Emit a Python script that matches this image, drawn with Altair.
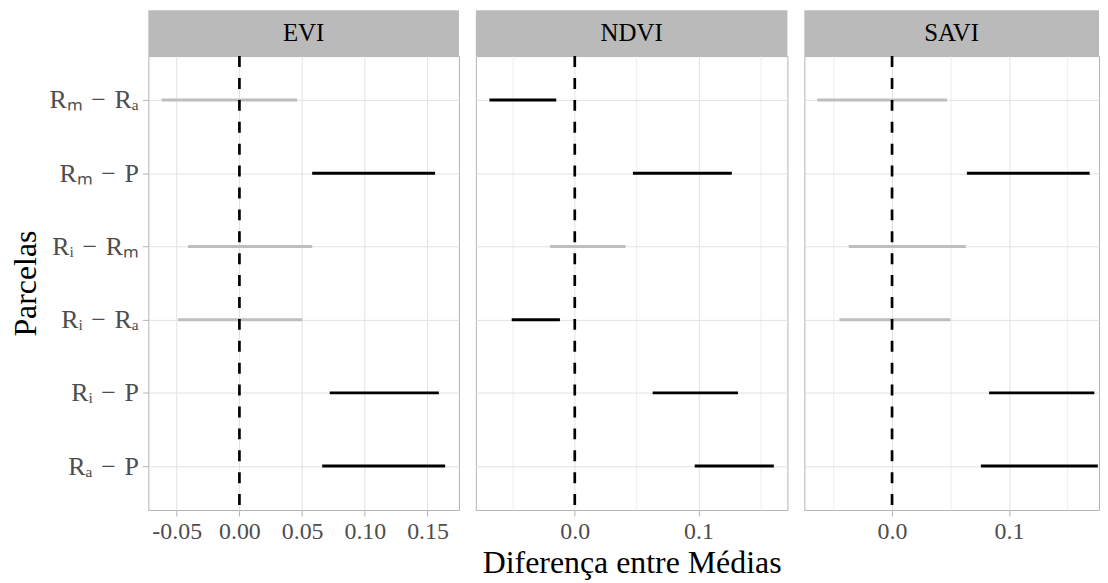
import altair as alt
import pandas as pd

SP = "\u2004"  # slightly wider space, like plotmath spacing around the minus
comparisons = [f"Rₘ{SP}−{SP}Rₐ", f"Rₘ{SP}−{SP}P", f"Rᵢ{SP}−{SP}Rₘ",
               f"Rᵢ{SP}−{SP}Rₐ", f"Rᵢ{SP}−{SP}P", f"Rₐ{SP}−{SP}P"]
panels = ["EVI", "NDVI", "SAVI"]

evi_lower = [-0.062, 0.058, -0.041, -0.049, 0.072, 0.066]
evi_upper = [0.046, 0.156, 0.058, 0.050, 0.159, 0.164]
ndvi_lower = [-0.069, 0.047, -0.020, -0.051, 0.063, 0.097]
ndvi_upper = [-0.015, 0.127, 0.041, -0.012, 0.132, 0.161]
savi_lower = [-0.064, 0.064, -0.037, -0.045, 0.083, 0.076]
savi_upper = [0.047, 0.169, 0.063, 0.050, 0.173, 0.176]

evi_ticks = [-0.05, -0.025, 0.0, 0.025, 0.05, 0.075, 0.10, 0.125, 0.15, 0.175]
ndvi_ticks = [-0.05, 0.0, 0.05, 0.10, 0.15]
savi_ticks = [-0.05, 0.0, 0.05, 0.10, 0.15]

x_domains = {"EVI": [-0.0726, 0.175], "NDVI": [-0.080, 0.172], "SAVI": [-0.075, 0.177]}

FONT = "Liberation Serif"
LABEL_COLOR = "#4d4d4d"
BORDER = "#b3b3b3"
GRID_MAJOR = "#e2e2e2"
GRID_MINOR = "#eeeeee"
STRIP = "#bababa"
HEIGHT = 456


def make_panel(name, lower, upper, ticks, major_k, decimals, width, first, middle):
    df = pd.DataFrame({"comp": comparisons, "lo": lower, "hi": upper})
    df["sig"] = ["sig" if (l > 0 or h < 0) else "ns" for l, h in zip(lower, upper)]
    test = f"abs(datum.value*{major_k} - round(datum.value*{major_k})) < 1e-6"
    label_expr = (f"{test} ? (datum.value < -1e-9 ? '-' : '') + "
                  f"format(abs(datum.value), '.{decimals}f') : ''")
    x_axis = alt.Axis(
        values=ticks,
        labelExpr=label_expr,
        labelOverlap=False,
        labelFlush=False,
        labelFont=FONT,
        labelFontSize=24,
        labelColor=LABEL_COLOR,
        labelPadding=4,
        tickColor=BORDER,
        tickSize=6,
        tickOpacity={"condition": {"test": test, "value": 1}, "value": 0},
        grid=True,
        gridColor={"condition": {"test": test, "value": GRID_MAJOR}, "value": GRID_MINOR},
        domain=False,
        title="Diferença entre Médias" if middle else None,
        titleFont=FONT,
        titleFontSize=32,
        titleFontWeight="normal",
        titleColor="black",
        titlePadding=4,
    )
    if first:
        y_axis = alt.Axis(
            title="Parcelas",
            titleFont=FONT,
            titleFontSize=32,
            titleFontWeight="normal",
            titleColor="black",
            titlePadding=7,
            labelFont=FONT,
            labelFontSize=26,
            labelColor=LABEL_COLOR,
            labelPadding=4,
            tickColor=BORDER,
            tickSize=6,
            domain=False,
            grid=True,
            gridColor=GRID_MAJOR,
        )
    else:
        y_axis = alt.Axis(title=None, labels=False, ticks=False, domain=False,
                          grid=True, gridColor=GRID_MAJOR)

    xscale = alt.Scale(domain=x_domains[name], nice=False, zero=False)
    yscale = alt.Scale(type="point", padding=0.6, domain=comparisons)

    intervals = alt.Chart(df).mark_rule(strokeWidth=3).encode(
        x=alt.X("lo:Q", scale=xscale, axis=x_axis),
        x2="hi:Q",
        y=alt.Y("comp:N", scale=yscale, axis=y_axis),
        color=alt.Color("sig:N", scale=alt.Scale(domain=["sig", "ns"], range=["#000000", "#bebebe"]),
                        legend=None),
    )
    vline = alt.Chart(pd.DataFrame({"v": [0]})).mark_rule(
        strokeDash=[11, 11], strokeWidth=2.7, color="black"
    ).encode(x=alt.datum(0))

    strip_df = pd.DataFrame({"panel": [name]})
    strip = alt.Chart(strip_df).mark_rect(color=STRIP).encode(
        x=alt.value(0), x2=alt.value(width), y=alt.value(-46), y2=alt.value(0)
    )
    strip_text = alt.Chart(strip_df).mark_text(
        fontSize=25, color="black", font=FONT, baseline="middle", align="center"
    ).encode(text="panel:N", x=alt.value(width / 2), y=alt.value(-23))

    return alt.layer(intervals, vline, strip, strip_text).properties(width=width, height=HEIGHT)


p1 = make_panel("EVI", evi_lower, evi_upper, evi_ticks, 20, 2, 312, True, False)
p2 = make_panel("NDVI", ndvi_lower, ndvi_upper, ndvi_ticks, 10, 1, 313, False, True)
p3 = make_panel("SAVI", savi_lower, savi_upper, savi_ticks, 10, 1, 296, False, False)

chart = alt.hconcat(p1, p2, p3, spacing=15).configure(
    font=FONT, padding={"left": 0, "top": 0, "right": 0, "bottom": 0}
).configure_view(stroke=BORDER, strokeWidth=1)

chart.save("out.html", embed_options={"renderer": "svg", "actions": False})
